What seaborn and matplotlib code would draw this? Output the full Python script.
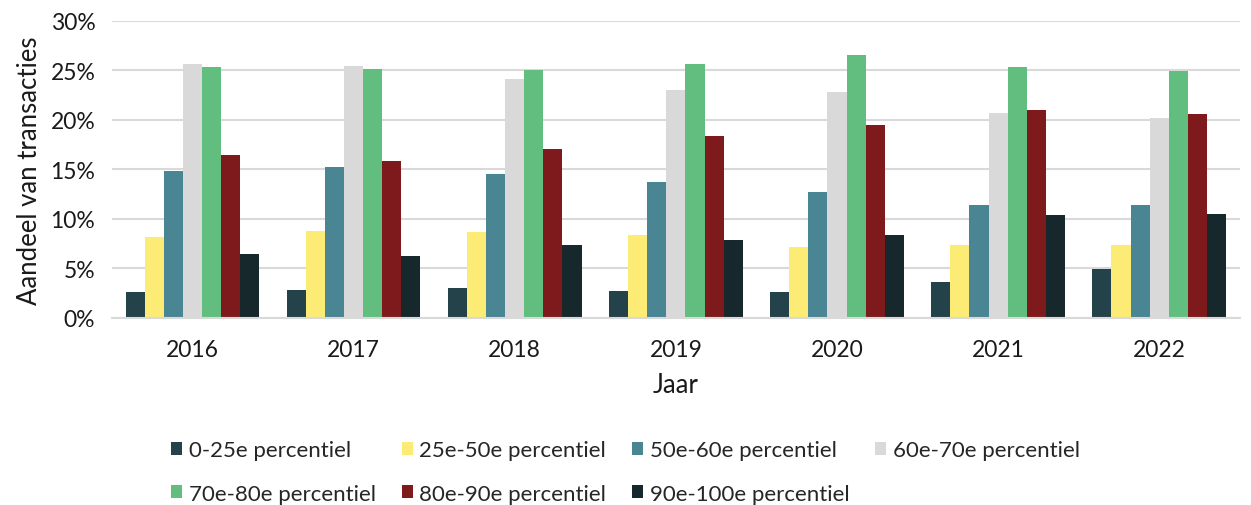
import matplotlib
matplotlib.use("Agg")
import matplotlib.pyplot as plt
import seaborn as sns
import pandas as pd
from matplotlib.ticker import PercentFormatter, MultipleLocator
from matplotlib.patches import Patch

years = ["2016", "2017", "2018", "2019", "2020", "2021", "2022"]
series = ["0-25e percentiel", "25e-50e percentiel", "50e-60e percentiel", "60e-70e percentiel",
          "70e-80e percentiel", "80e-90e percentiel", "90e-100e percentiel"]
p0_25 = [2.6, 2.8, 3.0, 2.7, 2.6, 3.6, 4.9]
p25_50 = [8.2, 8.8, 8.7, 8.4, 7.2, 7.4, 7.4]
p50_60 = [14.8, 15.3, 14.5, 13.7, 12.7, 11.4, 11.4]
p60_70 = [25.7, 25.5, 24.1, 23.0, 22.8, 20.7, 20.2]
p70_80 = [25.3, 25.1, 25.0, 25.7, 26.6, 25.4, 24.9]
p80_90 = [16.5, 15.9, 17.1, 18.4, 19.5, 21.0, 20.6]
p90_100 = [6.5, 6.3, 7.4, 7.9, 8.4, 10.4, 10.5]
colors = ["#24424A", "#FCEB74", "#4A8593", "#D9D9D9", "#62BE7E", "#7E1A1B", "#17282D"]

values = [p0_25, p25_50, p50_60, p60_70, p70_80, p80_90, p90_100]
rows = []
for s, vals in zip(series, values):
    for y, v in zip(years, vals):
        rows.append({"Jaar": y, "Reeks": s, "Waarde": v})
df = pd.DataFrame(rows)

sns.set_theme(style="white")
plt.rcParams["font.family"] = ["Lato", "DejaVu Sans"]

fig = plt.figure(figsize=(12.51, 5.06), dpi=100)
ax = fig.add_axes([0.0895, 0.3696, 0.9015, 0.587])

sns.barplot(data=df, x="Jaar", y="Waarde", hue="Reeks", hue_order=series, order=years,
            palette=colors, width=0.83, saturation=1, ax=ax, legend=False, linewidth=0)

ax.set_ylim(0, 30)
ax.set_xlim(-0.5, 6.5)
ax.yaxis.set_major_locator(MultipleLocator(5))
ax.yaxis.set_major_formatter(PercentFormatter(decimals=0))
ax.grid(axis="y", color="#D9D9D9", linewidth=1.5)
ax.set_axisbelow(True)
for side in ["top", "right", "left"]:
    ax.spines[side].set_visible(False)
ax.spines["bottom"].set_color("#D9D9D9")
ax.spines["bottom"].set_linewidth(1.5)
ax.tick_params(axis="both", length=0, labelsize=16.5, colors="#1a1a1a")
ax.tick_params(axis="x", pad=15)
ax.tick_params(axis="y", pad=12)
ax.set_xlabel("Jaar", fontsize=18.5, color="#1a1a1a", labelpad=9)
ax.set_ylabel("Aandeel van transacties", fontsize=18.5, color="#1a1a1a", labelpad=6)

handles = [Patch(facecolor=c, edgecolor="none") for c in colors]
order = [0, 4, 1, 5, 2, 6, 3]
fig.legend([handles[i] for i in order], [series[i] for i in order], ncol=4,
           loc="upper center", bbox_to_anchor=(0.5, 0.128), frameon=False,
           fontsize=16, handlelength=0.5, handleheight=0.5, handletextpad=0.3,
           columnspacing=1.15, labelspacing=1.05, borderaxespad=0, borderpad=0)

fig.savefig("out.png", dpi=100)
